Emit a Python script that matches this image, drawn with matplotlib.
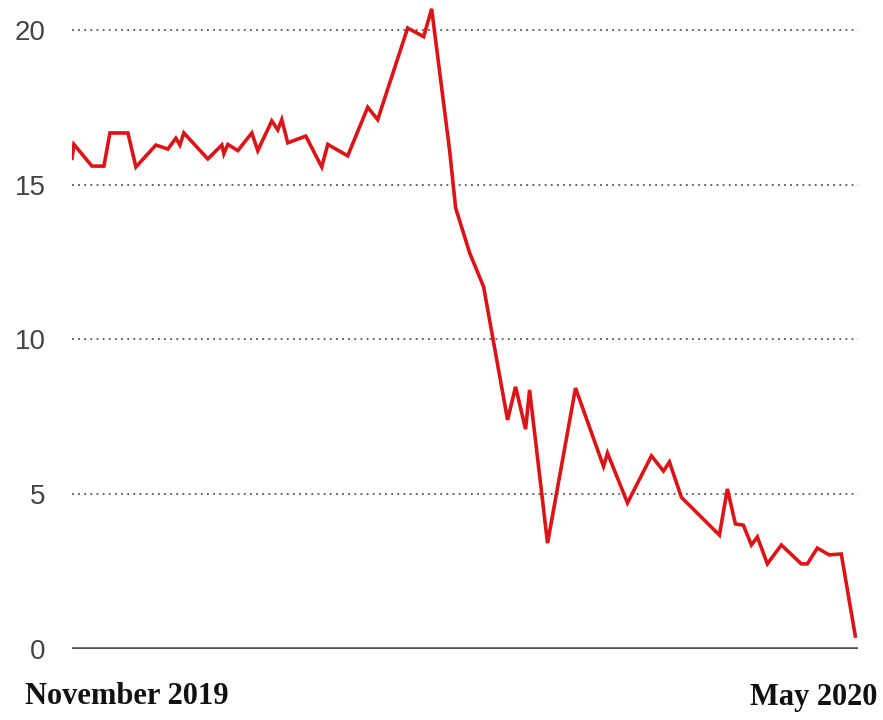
import matplotlib
matplotlib.use('Agg')
from matplotlib import pyplot as plt

# 数据：横轴为自2019年11月初起的天数，纵轴为数值
days = [0, 0.5, 5, 8, 9.5, 14, 16, 21, 24, 26, 27, 28, 34, 37.5, 38, 39, 41.5,
        45, 46.5, 50, 51.5, 52.5, 54, 58.5, 62.5, 64, 69, 74, 76.5, 84, 88, 90,
        94.5, 96, 99.5, 103, 109, 111, 113.5, 114.5, 119, 126, 133, 134, 139,
        145, 148, 149.5, 152.5, 162, 164, 166, 168, 170, 171.5, 174, 177.5,
        182.5, 184, 186.5, 189.5, 192.5, 196]
values = [15.85, 16.3, 15.6, 15.6, 16.67, 16.67, 15.57, 16.28, 16.15, 16.5,
          16.28, 16.67, 15.83, 16.28, 16.0, 16.3, 16.1, 16.67, 16.1, 17.06,
          16.77, 17.1, 16.35, 16.57, 15.57, 16.3, 15.93, 17.5, 17.1, 20.06,
          19.78, 20.68, 16.1, 14.25, 12.8, 11.7, 7.4, 8.47, 7.1, 8.37, 3.42,
          8.43, 5.9, 6.33, 4.72, 6.24, 5.75, 6.04, 4.9, 3.68, 5.17, 4.04, 4.0,
          3.36, 3.62, 2.75, 3.36, 2.75, 2.75, 3.26, 3.04, 3.07, 0.42]
y_ticks = [0, 5, 10, 15, 20]
start_label = "November 2019"
end_label = "May 2020"

fig = plt.figure(figsize=(8.83, 7.2), dpi=100)
ax = fig.add_axes([0.0815, 0.0986, 0.8905, 0.89])

# 网格线：虚点线，0处为实线
for t in y_ticks[1:]:
    ax.axhline(t, color='#555555', lw=1.3, ls=(0, (1, 2.4)), zorder=1)
ax.axhline(0, color='#505050', lw=2.6, zorder=1)

ax.plot(days, values, color='#dd1417', lw=2.6, zorder=3, solid_joinstyle='miter')

ax.set_xlim(0, 196.75)
ax.set_ylim(0, 20.7)
ax.set_yticks(y_ticks)
ax.set_xticks([])
ax.tick_params(axis='y', length=0, pad=19, labelsize=20, labelcolor='#444444')
for lab in ax.get_yticklabels():
    lab.set_family('Liberation Sans')
for s in ax.spines.values():
    s.set_visible(False)

fig.text(25 / 883, 1 - 697 / 720, start_label, ha='left', va='center', fontsize=22,
         fontweight='bold', family='Liberation Serif', color='#111111')
fig.text(877 / 883, 1 - 697 / 720, end_label, ha='right', va='center', fontsize=22,
         fontweight='bold', family='Liberation Serif', color='#111111')

plt.savefig('out.png', dpi=100)
